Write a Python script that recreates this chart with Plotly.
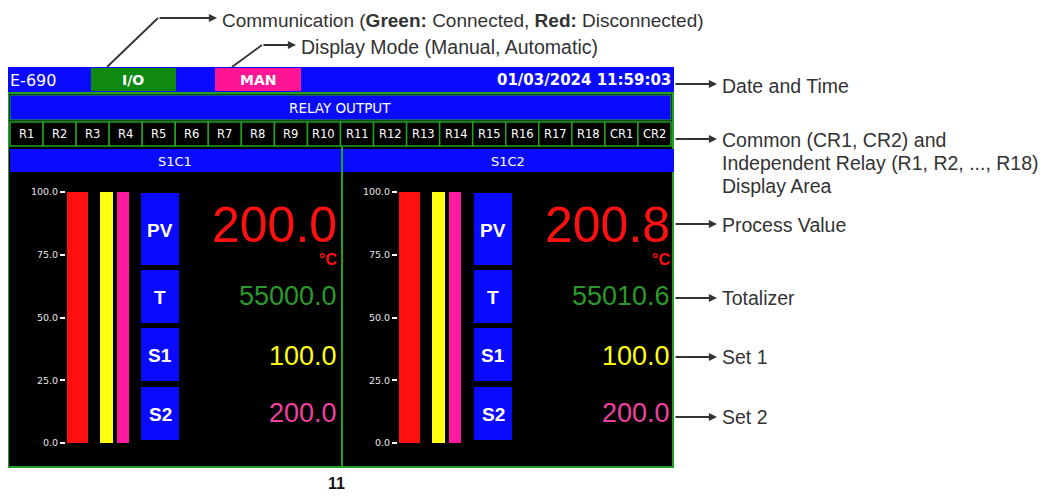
import plotly.graph_objects as go

# page offset (browser body margin) and figure size that fits the 1051x502 window
PAGE_OFF = 8
W, H = 1051 - 2 * PAGE_OFF, 502 - 2 * PAGE_OFF

# ---------------- data ----------------
channels = ["S1C1", "S1C2"]
pv_values = [200.0, 200.8]
totalizer_values = [55000.0, 55010.6]
set1_values = [100.0, 100.0]
set2_values = [200.0, 200.0]
bar_series = ["PV", "S1", "S2"]
scale_ticks = [0, 25, 50, 75, 100]
scale_labels = ["0.0", "25.0", "50.0", "75.0", "100.0"]
relay_labels = ["R%d" % i for i in range(1, 19)] + ["CR1", "CR2"]
device_name = "E-690"
comm_label = "I/O"
mode_label = "MAN"
datetime_label = "01/03/2024 11:59:03"
unit_label = "°C"
page_number = "11"
box_labels = ["PV", "T", "S1", "S2"]

# ---------------- styles ----------------
BLUE = "#0a0aff"
GREEN = "#22a022"
RED = "#ff1010"
YELLOW = "#ffff10"
PINK = "#ff1aa0"
TGREEN = "#2a9a2a"
SPINK = "#f0409f"
DARK = "#333333"
SCREEN_FONT = "DejaVu Sans"
ARIAL = "Liberation Sans, Arial"


def X(px):
    return (px - PAGE_OFF) / W


def Y(py):
    return 1 - (py - PAGE_OFF) / H


shapes = []
annotations = []


def rect(x0, y0, x1, y1, fill, line=None, lw=0):
    shapes.append(dict(type="rect", xref="paper", yref="paper",
                       x0=X(x0), x1=X(x1), y0=Y(y1), y1=Y(y0),
                       fillcolor=fill, line=dict(color=line or fill, width=lw),
                       layer="below"))


def seg(x0, y0, x1, y1, color, w):
    shapes.append(dict(type="line", xref="paper", yref="paper",
                       x0=X(x0), x1=X(x1), y0=Y(y0), y1=Y(y1),
                       line=dict(color=color, width=w), layer="above"))


def txt(x, y, text, size, color, xanchor="center", family=SCREEN_FONT, bold=False, yanchor="middle"):
    if bold:
        text = "<b>%s</b>" % text
    annotations.append(dict(x=X(x), y=Y(y), xref="paper", yref="paper", text=text,
                            showarrow=False, xanchor=xanchor, yanchor=yanchor,
                            font=dict(size=size, color=color, family=family)))


def arrow(x0, x1, y):
    annotations.append(dict(x=X(x1), y=Y(y), xref="paper", yref="paper", text="",
                            showarrow=True, ax=x0 - x1, ay=0, axref="pixel", ayref="pixel",
                            arrowhead=2, arrowsize=0.9, arrowwidth=1.8, arrowcolor=DARK))


# header bar
rect(7, 67, 674, 92, BLUE)
rect(91, 68, 176, 91, "#0f8a0f")
rect(215, 68, 301, 91, "#ff1493")
txt(8, 80, device_name, 16, "white", "left")
txt(133, 80, comm_label, 14, "white", bold=True)
txt(258, 80, mode_label, 14, "white", bold=True)
txt(673, 80, datetime_label, 15, "white", "right", bold=True)

# screen body
rect(8, 93, 673, 467, "black", GREEN, 2)
rect(10, 95, 671, 120, BLUE, GREEN, 1)
txt(340, 108, "RELAY OUTPUT", 13.5, "white")
bw = (671 - 10) / len(relay_labels)
for i, lab in enumerate(relay_labels):
    rect(10 + i * bw, 122, 10 + (i + 1) * bw, 146, "black", GREEN, 1.5)
    txt(10 + (i + 0.5) * bw, 134, lab, 11.5, "white")

# channel panels
bar_px = [(1, 22), (34, 47), (51, 63)]  # pixel spans inside bar area
bar_colors = [RED, YELLOW, PINK]
fig = go.Figure()
for c, ch in enumerate(channels):
    s = c * 333
    rect(10 + s, 149, 341 + s, 172, BLUE)
    txt(175 + s, 161, ch, 13, "white")
    for (y0, y1), lab in zip([(193, 265), (270, 323), (328, 381), (387, 440)], box_labels):
        rect(141 + s, y0, 179 + s, y1, BLUE)
        txt(160 + s, (y0 + y1) / 2 + 1, lab, 19, "white", family=ARIAL, bold=True)
    xr = 339 + s
    txt(xr, 225, "%.1f" % pv_values[c], 50, RED, "right", family=ARIAL)
    txt(xr, 259, unit_label, 16, RED, "right", family=ARIAL, bold=True)
    txt(xr, 296, "%.1f" % totalizer_values[c], 27, TGREEN, "right", family=ARIAL)
    txt(xr, 356, "%.1f" % set1_values[c], 27, YELLOW, "right", family=ARIAL)
    txt(xr, 413, "%.1f" % set2_values[c], 27, SPINK, "right", family=ARIAL)

    # bar graph via axes
    ax0, ax1 = 66 + c * 332, 140 + c * 332
    unit = (ax1 - ax0) / 3
    offsets = [l / unit - (i + 0.5) for i, (l, r) in enumerate(bar_px)]
    widths = [(r - l) / unit for (l, r) in bar_px]
    sfx = "" if c == 0 else str(c + 1)
    fig.add_trace(go.Bar(x=bar_series, y=[pv_values[c], set1_values[c], set2_values[c]],
                         xaxis="x" + sfx, yaxis="y" + sfx,
                         marker=dict(color=bar_colors, line=dict(width=0)),
                         width=widths, offset=offsets, showlegend=False, hoverinfo="skip"))
    fig.update_layout(**{
        "xaxis" + sfx: dict(domain=[X(ax0), X(ax1)], type="category", range=[-0.5, 2.5],
                            visible=False, fixedrange=True, anchor="y" + sfx),
        "yaxis" + sfx: dict(domain=[Y(443), Y(192)], range=[0, 100], tickvals=scale_ticks,
                            ticktext=scale_labels, ticks="outside", ticklen=5, tickwidth=2,
                            tickcolor="white", showgrid=False, zeroline=False, showline=False,
                            tickfont=dict(family=SCREEN_FONT, size=9.5, color="#e6e6e6"),
                            fixedrange=True, anchor="x" + sfx, automargin=False),
    })

# divider between panels
shapes.append(dict(type="line", xref="paper", yref="paper", x0=X(342), x1=X(342),
                   y0=Y(467), y1=Y(147), line=dict(color=GREEN, width=2), layer="below"))

# callouts on the right
arrow(674, 717, 84)
txt(720, 86, "Date and Time", 19.5, DARK, "left", ARIAL)
arrow(674, 717, 139)
txt(720, 140, "Common (CR1, CR2) and", 19.5, DARK, "left", ARIAL)
txt(720, 163, "Independent Relay (R1, R2, ..., R18)", 19.5, DARK, "left", ARIAL)
txt(720, 186, "Display Area", 19.5, DARK, "left", ARIAL)
arrow(674, 717, 224)
txt(720, 225, "Process Value", 19.5, DARK, "left", ARIAL)
arrow(674, 717, 298)
txt(720, 298, "Totalizer", 19.5, DARK, "left", ARIAL)
arrow(674, 717, 357)
txt(720, 357, "Set 1", 19.5, DARK, "left", ARIAL)
arrow(674, 717, 417)
txt(720, 417, "Set 2", 19.5, DARK, "left", ARIAL)

# callouts on top
seg(107, 67, 158, 18, DARK, 1.8)
arrow(158, 217, 18)
txt(220, 8, "Communication (<b>Green:</b> Connected, <b>Red:</b> Disconnected)", 19,
    DARK, "left", ARIAL, yanchor="top")
seg(232, 67, 262, 45, DARK, 1.8)
arrow(262, 296, 45)
txt(299, 47, "Display Mode (Manual, Automatic)", 19.5, DARK, "left", ARIAL)

txt(336, 494, page_number, 16, "#111111", family=ARIAL, bold=True, yanchor="bottom")

fig.update_layout(width=W, height=H, margin=dict(l=0, r=0, t=0, b=0, autoexpand=False),
                  paper_bgcolor="white", plot_bgcolor="rgba(0,0,0,0)",
                  shapes=shapes, annotations=annotations, bargap=0)
fig.write_html("out.html")
